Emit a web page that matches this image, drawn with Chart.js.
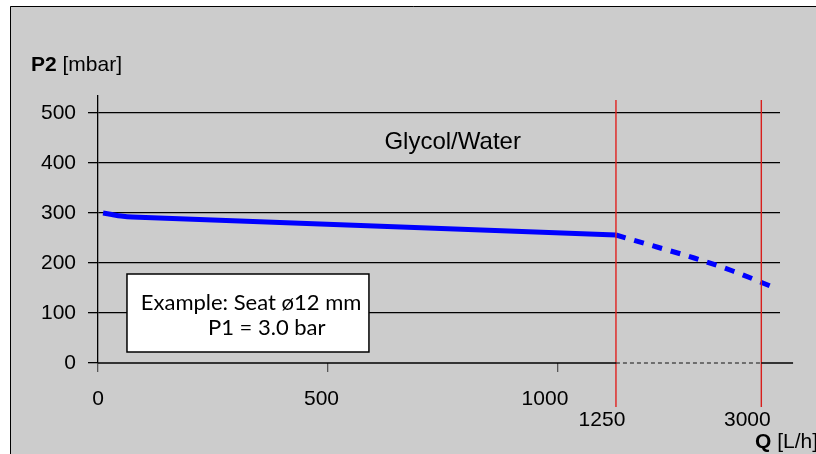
<!DOCTYPE html>
<html>
<head>
<meta charset="utf-8">
<script src="https://cdn.jsdelivr.net/npm/chart.js@4"></script>
<style>
  html, body { margin: 0; padding: 0; background: #fff; }
  #wrap { position: relative; width: 816px; height: 454px; }
</style>
</head>
<body>
<div id="wrap"><canvas id="chart" width="816" height="454"></canvas></div>
<script>
// P2 vs flow, glycol/water, seat 12 mm
const flowSolid = [11, 30, 50, 74, 1126];
const p2Solid = [300, 297, 294, 292, 256];
const flowDashed = [1126, 1215, 1296, 1380, 1472];
const p2Dashed = [256, 232, 210, 184, 150];

const yTicks = [0, 100, 200, 300, 400, 500];
const xTicks = [0, 500, 1000];
const markerFlows = [1126, 1442];
const markerLabels = ['1250', '3000'];

const pts = (xs, ys) => xs.map((x, i) => ({ x: x, y: ys[i] }));
const vline = x => [{ x: x, y: -88 }, { x: x, y: 526 }];

const baseFont = 'Liberation Sans, Arial, sans-serif';

const decor = {
    id: 'decor',
    beforeDraw(chart) {
        const c = chart.ctx;
        c.save();
        c.fillStyle = '#fff';
        c.fillRect(0, 0, chart.width, chart.height);
        c.fillStyle = '#cccccc';
        c.fillRect(10, 6, chart.width - 10, chart.height - 6);
        c.strokeStyle = '#000';
        c.lineWidth = 1;
        c.beginPath();
        c.moveTo(10.5, chart.height);
        c.lineTo(10.5, 6.5);
        c.lineTo(chart.width, 6.5);
        c.stroke();
        c.restore();
    },
    afterDraw(chart) {
        const c = chart.ctx;
        const xs = chart.scales.x, ys = chart.scales.y;
        c.save();
        c.fillStyle = '#000';
        c.textBaseline = 'middle';

        // axis titles
        c.textAlign = 'left';
        c.font = 'bold 21px ' + baseFont;
        c.fillText('P2', 31, 65);
        let w = c.measureText('P2 ').width;
        c.font = '21px ' + baseFont;
        c.fillText('[mbar]', 31 + w, 65);

        c.font = 'bold 21px ' + baseFont;
        c.fillText('Q', 755, 442);
        w = c.measureText('Q ').width;
        c.font = '21px ' + baseFont;
        c.fillText('[L/h]', 755 + w, 442);

        // marker labels
        c.textAlign = 'center';
        markerFlows.forEach((f, i) => {
            c.fillText(markerLabels[i], xs.getPixelForValue(f) - 14, 420);
        });

        c.font = '24px ' + baseFont;
        c.fillText('Glycol/Water', xs.getPixelForValue(771), ys.getPixelForValue(442));

        // example box
        const bx0 = xs.getPixelForValue(63), bx1 = xs.getPixelForValue(589);
        const by0 = ys.getPixelForValue(178), by1 = ys.getPixelForValue(22);
        c.fillStyle = '#fff';
        c.fillRect(bx0, by0, bx1 - bx0, by1 - by0);
        c.strokeStyle = '#000';
        c.lineWidth = 1.5;
        c.strokeRect(bx0, by0, bx1 - bx0, by1 - by0);
        c.fillStyle = '#000';
        c.textAlign = 'left';
        c.font = '22px Lato, sans-serif';
        c.fillText('Example: Seat \u00f812 mm', xs.getPixelForValue(93), ys.getPixelForValue(120));
        c.fillText('P1 = 3.0 bar', xs.getPixelForValue(239), ys.getPixelForValue(70));
        c.restore();
    }
};

new Chart(document.getElementById('chart'), {
    type: 'line',
    data: {
        datasets: [
            {
                data: pts([0, markerFlows[0]], [0, 0]),
                borderColor: '#000', borderWidth: 1.3, pointRadius: 0, clip: false
            },
            {
                data: pts(markerFlows, [0, 0]),
                borderColor: '#111', borderWidth: 1, borderDash: [4, 3], pointRadius: 0, clip: false
            },
            {
                data: pts([markerFlows[1], 1511], [0, 0]),
                borderColor: '#000', borderWidth: 1.3, pointRadius: 0, clip: false
            },
            {
                data: vline(markerFlows[0]),
                borderColor: '#e0201e', borderWidth: 1.4, pointRadius: 0, clip: false
            },
            {
                data: vline(markerFlows[1]),
                borderColor: '#d81e1c', borderWidth: 1.4, pointRadius: 0, clip: false
            },
            {
                data: pts(flowSolid, p2Solid),
                borderColor: '#0000ff', borderWidth: 5, pointRadius: 0,
                tension: 0.3, clip: false
            },
            {
                data: pts(flowDashed, p2Dashed),
                borderColor: '#0000ff', borderWidth: 5, borderDash: [10, 9], pointRadius: 0,
                cubicInterpolationMode: 'monotone', clip: false
            }
        ]
    },
    options: {
        responsive: false,
        animation: false,
        layout: { padding: { top: 96, right: 36, left: 0, bottom: 0 } },
        plugins: { legend: { display: false }, tooltip: { enabled: false } },
        scales: {
            x: {
                type: 'linear',
                min: 0,
                max: 1482.6,
                afterBuildTicks: s => { s.ticks = xTicks.map(v => ({ value: v })); },
                afterFit: s => { s.height = 9; },
                border: { display: false },
                grid: { drawOnChartArea: false, drawTicks: true, tickLength: 9, tickColor: '#555', lineWidth: 1.3 },
                ticks: { display: false }
            },
            xl: {
                type: 'linear',
                position: 'bottom',
                min: 0,
                max: 1525.8,
                afterBuildTicks: s => { s.ticks = xTicks.map(v => ({ value: v })); },
                afterFit: s => { s.height = 82; },
                border: { display: false },
                grid: { display: false, drawTicks: false },
                ticks: {
                    color: '#000', padding: 15, maxRotation: 0,
                    callback: v => String(v),
                    font: { family: baseFont, size: 21 }
                }
            },
            y: {
                min: 0,
                max: 534,
                afterBuildTicks: s => { s.ticks = yTicks.map(v => ({ value: v })); },
                afterFit: s => { s.width = 98; },
                border: { display: true, color: '#000', width: 1.3 },
                grid: {
                    color: ctx => ctx.tick && ctx.tick.value === 0 ? 'rgba(0,0,0,0)' : '#000',
                    tickColor: '#000',
                    tickLength: 10,
                    lineWidth: 1.3
                },
                ticks: { color: '#000', padding: 12, font: { family: baseFont, size: 21 } }
            }
        }
    },
    plugins: [decor]
});
</script>
</body>
</html>
